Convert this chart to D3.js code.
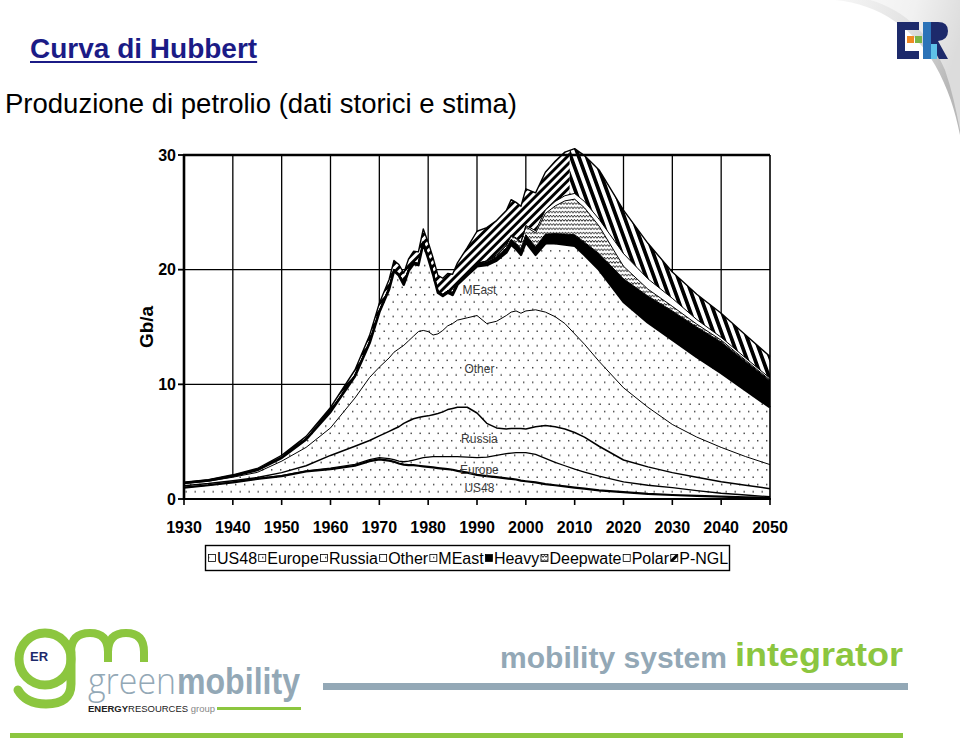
<!DOCTYPE html>
<html><head><meta charset="utf-8">
<script src="https://cdn.jsdelivr.net/npm/d3@7"></script>
<style>body{margin:0;background:#fff}svg{display:block}</style>
</head><body>
<svg id="c" width="960" height="743"></svg>
<script>
// ---------------- DATA ----------------
const years = [1930,1935,1940,1945,1950,1955,1960,1965,1968,1970,1972,1973,1974,1975,1976,1977,1978,1979,1980,1981,1982,1983,1984,1985,1986,1988,1990,1992,1994,1996,1997,1998,1999,2000,2002,2004,2006,2008,2010,2012,2015,2020,2025,2030,2035,2040,2045,2050];
const us48 =   [1.0,1.2,1.45,1.75,2.0,2.4,2.6,2.9,3.3,3.45,3.35,3.25,3.1,3.0,2.95,2.95,2.9,2.85,2.8,2.75,2.7,2.65,2.6,2.55,2.45,2.3,2.1,2.0,1.9,1.8,1.75,1.7,1.6,1.55,1.45,1.3,1.2,1.1,1.0,0.9,0.75,0.6,0.45,0.35,0.28,0.2,0.15,0.1];
const europe = [0.01,0.01,0.02,0.02,0.03,0.05,0.1,0.12,0.13,0.15,0.17,0.18,0.2,0.25,0.35,0.45,0.6,0.75,0.85,0.95,1.0,1.05,1.1,1.15,1.25,1.35,1.5,1.65,1.9,2.15,2.25,2.35,2.45,2.5,2.45,2.25,2.0,1.8,1.6,1.45,1.25,0.9,0.75,0.65,0.45,0.3,0.2,0.1];
const russia = [0.14,0.14,0.13,0.1,0.27,0.45,1.1,1.58,1.67,1.9,2.38,2.67,3.0,3.35,3.5,3.6,3.6,3.6,3.6,3.65,3.75,3.9,4.1,4.2,4.3,4.35,3.9,2.95,2.4,2.15,2.15,2.1,2.1,2.05,2.4,2.85,3.1,3.2,3.2,3.05,2.6,1.9,1.6,1.3,1.17,1.0,0.85,0.7];
const other =  [0.2,0.2,0.3,0.45,1.0,1.6,2.4,4.2,5.5,6.0,6.4,6.7,6.8,6.8,7.0,7.2,7.5,7.5,7.35,6.95,6.95,7.1,7.3,7.4,7.6,7.8,8.5,8.7,9.3,9.9,10.15,10.25,10.05,10.3,10.2,9.9,9.6,9.2,8.6,8.1,7.4,6.3,5.2,4.2,3.5,3.0,2.5,2.1];
const meast =  [0.05,0.07,0.1,0.2,0.3,0.7,1.4,1.9,3.0,4.8,6.0,7.1,6.4,5.3,6.1,6.3,5.8,7.6,6.4,5.3,3.6,3.0,2.9,2.5,3.1,3.7,4.3,5.1,5.3,5.5,5.9,5.4,5.1,6.0,4.8,6.0,6.4,6.9,7.7,7.8,8.0,7.5,7.4,7.4,7.0,6.5,5.8,5.0];
const heavy =  [0.02,0.02,0.03,0.04,0.05,0.06,0.08,0.1,0.12,0.12,0.14,0.15,0.15,0.15,0.15,0.15,0.15,0.15,0.15,0.15,0.15,0.15,0.17,0.2,0.2,0.22,0.25,0.3,0.35,0.4,0.45,0.5,0.55,0.65,0.7,0.8,0.85,0.9,0.95,1.1,1.4,2.0,2.3,2.5,2.6,2.7,2.5,2.3];
const deepwater = [0,0,0,0,0,0,0,0,0,0,0,0,0,0,0,0,0,0,0,0,0,0,0,0,0,0,0,0.05,0.1,0.2,0.3,0.4,0.5,0.7,1.2,1.8,2.4,2.9,3.1,3.0,2.4,1.1,0.6,0.4,0.25,0.15,0.1,0.08];
const polar =  [0,0,0,0,0,0,0,0,0,0,0,0,0,0,0,0,0,0,0,0,0,0,0,0,0,0,0,0.02,0.03,0.05,0.06,0.07,0.08,0.1,0.2,0.3,0.4,0.45,0.5,0.55,0.6,1.1,0.9,0.7,0.4,0.25,0.2,0.15];
const pngl =   [0.05,0.05,0.08,0.1,0.15,0.2,0.3,0.45,0.55,0.65,0.7,0.75,0.8,0.85,0.9,0.95,1.0,1.1,1.25,1.3,1.35,1.4,1.5,1.6,1.7,2.2,2.8,2.9,3.0,3.0,3.1,3.1,3.1,3.2,3.3,3.3,3.5,3.8,3.9,4.0,4.3,3.8,3.1,2.3,2.2,2.1,2.0,1.9];

const seriesKeys = ["US48","Europe","Russia","Other","MEast","Heavy","Deepwater","Polar","P-NGL"];
const seriesValues = [us48,europe,russia,other,meast,heavy,deepwater,polar,pngl];
const legendLabels = ["US48","Europe","Russia","Other","MEast","Heavy","Deepwate","Polar","P-NGL"];
const xTicks = [1930,1940,1950,1960,1970,1980,1990,2000,2010,2020,2030,2040,2050];
const yTicks = [0,10,20,30];
const yTitle = "Gb/a";
const inLabels = ["MEast","Other","Russia","Europe","US48"];
const inLabelYear = [1990.5,1990.5,1990.5,1990.5,1990.5];
const inLabelValue = [18.2,11.3,5.2,2.5,0.95];
const title = "Curva di Hubbert";
const subtitle = "Produzione di petrolio (dati storici e stima)";

// ---------------- SETUP ----------------
const svg = d3.select("#c");
const defs = svg.append("defs");
const FONT = "'Liberation Sans', Arial, sans-serif";

// patterns
const pd = defs.append("pattern").attr("id","dots").attr("patternUnits","userSpaceOnUse").attr("width",9).attr("height",14.6);
pd.append("rect").attr("width",9).attr("height",14.6).attr("fill","#fff");
pd.append("rect").attr("x",1).attr("y",2).attr("width",1.4).attr("height",1.4).attr("fill","#333");
pd.append("rect").attr("x",5.5).attr("y",9.3).attr("width",1.4).attr("height",1.4).attr("fill","#333");

const pw = defs.append("pattern").attr("id","wave").attr("patternUnits","userSpaceOnUse").attr("width",6).attr("height",4.2);
pw.append("rect").attr("width",6).attr("height",4.2).attr("fill","#fff");
pw.append("path").attr("d","M0,3 L1.5,1 L3,3 L4.5,1 L6,3").attr("fill","none").attr("stroke","#000").attr("stroke-width",0.8);

function stripes(id, period, angle){
  const p = defs.append("pattern").attr("id",id).attr("patternUnits","userSpaceOnUse").attr("width",period).attr("height",period).attr("patternTransform",`rotate(${angle})`);
  p.append("rect").attr("width",period).attr("height",period).attr("fill","#fff");
  p.append("rect").attr("width",period/2).attr("height",period).attr("fill","#000");
}
stripes("hatch",5.8,45);
stripes("hatch2",7.4,-20);

// clip regions: rising part / falling part of the P-NGL band
const x = d3.scaleLinear().domain([1930,2050]).range([184,770]);
const y = d3.scaleLinear().domain([0,30]).range([499,155]);
const peakYear = 2009;
defs.append("clipPath").attr("id","cl").append("rect").attr("x",0).attr("y",0).attr("width",x(peakYear)).attr("height",743);
defs.append("clipPath").attr("id","cr").append("rect").attr("x",x(peakYear)).attr("y",0).attr("width",960-x(peakYear)).attr("height",743);

const fills = {"US48":"url(#dots)","Europe":"url(#dots)","Russia":"url(#dots)","Other":"url(#dots)","MEast":"url(#dots)","Heavy":"#000","Deepwater":"url(#wave)","Polar":"#fff","P-NGL":"url(#hatch)"};
const lineW = {"US48":2.2,"Europe":1.3,"Russia":1.5,"Other":1,"MEast":2.6,"Heavy":1,"Deepwater":1,"Polar":1,"P-NGL":1.4};

const rows = years.map((yr,i)=>{const r={year:yr}; seriesKeys.forEach((k,j)=>r[k]=seriesValues[j][i]); return r;});
const stacked = d3.stack().keys(seriesKeys)(rows);

// grid
const g = svg.append("g");
g.selectAll("line.vg").data(xTicks.slice(1,-1)).join("line")
  .attr("x1",d=>x(d)).attr("x2",d=>x(d)).attr("y1",y(0)).attr("y2",y(30))
  .attr("stroke","#000").attr("stroke-width",1.3);
g.selectAll("line.hg").data(yTicks.slice(1,-1)).join("line")
  .attr("x1",x(1930)).attr("x2",x(2050)).attr("y1",d=>y(d)).attr("y2",d=>y(d))
  .attr("stroke","#000").attr("stroke-width",1.3);

// areas
const area = d3.area().x(d=>x(d.data.year)).y0(d=>y(d[0])).y1(d=>y(d[1]));
const line = d3.line().x(d=>x(d.data.year)).y(d=>y(d[1]));
const plain = stacked.filter(s=>s.key!=="P-NGL");
const ngl = stacked.find(s=>s.key==="P-NGL");
g.selectAll("path.ar").data(plain).join("path").attr("class","ar")
  .attr("d",area).attr("fill",d=>fills[d.key]).attr("stroke","none");
g.append("path").datum(ngl).attr("d",area).attr("fill","url(#hatch)").attr("clip-path","url(#cl)");
g.append("path").datum(ngl).attr("d",area).attr("fill","url(#hatch2)").attr("clip-path","url(#cr)");
g.selectAll("path.ln").data(stacked).join("path").attr("class","ln")
  .attr("d",line).attr("fill","none").attr("stroke","#000").attr("stroke-width",d=>lineW[d.key]).attr("stroke-linejoin","round");

// in-chart labels
g.selectAll("text.il").data(inLabels).join("text")
  .attr("x",(d,i)=>x(inLabelYear[i])).attr("y",(d,i)=>y(inLabelValue[i])+4)
  .attr("text-anchor","middle").attr("font-family",FONT).attr("font-size",12).attr("fill","#3c3c3c").text(d=>d);

// frame
g.append("line").attr("x1",x(1930)-1).attr("x2",x(2050)).attr("y1",y(30)).attr("y2",y(30)).attr("stroke","#000").attr("stroke-width",2.6);
g.append("line").attr("x1",x(2050)).attr("x2",x(2050)).attr("y1",y(30)).attr("y2",y(0)).attr("stroke","#000").attr("stroke-width",1.6);
g.append("line").attr("x1",x(1930)).attr("x2",x(1930)).attr("y1",y(30)-1).attr("y2",y(0)+1).attr("stroke","#000").attr("stroke-width",2.6);
g.append("line").attr("x1",x(1930)).attr("x2",x(2050)+1).attr("y1",y(0)).attr("y2",y(0)).attr("stroke","#000").attr("stroke-width",2.2);
// ticks
g.selectAll("line.xt").data(xTicks).join("line").attr("x1",d=>x(d)).attr("x2",d=>x(d)).attr("y1",y(0)).attr("y2",y(0)+6).attr("stroke","#000").attr("stroke-width",1.6);
g.selectAll("line.yt").data(yTicks).join("line").attr("x1",x(1930)-6).attr("x2",x(1930)).attr("y1",d=>y(d)).attr("y2",d=>y(d)).attr("stroke","#000").attr("stroke-width",1.8);
g.selectAll("text.xl").data(xTicks).join("text").attr("x",d=>x(d)).attr("y",533).attr("text-anchor","middle")
  .attr("font-family",FONT).attr("font-weight","bold").attr("font-size",16).text(d=>d);
g.selectAll("text.yl").data(yTicks).join("text").attr("x",176).attr("y",d=>y(d)+5.5).attr("text-anchor","end")
  .attr("font-family",FONT).attr("font-weight","bold").attr("font-size",16).text(d=>d);
g.append("text").attr("transform","translate(153,327) rotate(-90)").attr("text-anchor","middle")
  .attr("font-family",FONT).attr("font-weight","bold").attr("font-size",19).text(yTitle);

// legend
const lg = svg.append("g");
lg.append("rect").attr("x",205.5).attr("y",545.5).attr("width",524).attr("height",25).attr("fill","#fff").attr("stroke","#000").attr("stroke-width",1.4);
let lx = 208;
legendLabels.forEach((lab,i)=>{
  const k = seriesKeys[i];
  lg.append("rect").attr("x",lx+0.5).attr("y",554.5).attr("width",7).attr("height",7).attr("fill",fills[k]).attr("stroke","#000").attr("stroke-width",0.8);
  const t = lg.append("text").attr("x",lx+9).attr("y",564).attr("font-family",FONT).attr("font-size",16).text(lab);
  lx += 9 + t.node().getComputedTextLength() + 1.2;
});

// titles
const tt = svg.append("text").attr("x",30).attr("y",58).attr("font-family",FONT).attr("font-weight","bold").attr("font-size",28).attr("fill","#1b1b86").text(title);
const tw = tt.node().getComputedTextLength();
svg.append("rect").attr("x",30).attr("y",61).attr("width",tw).attr("height",2).attr("fill","#1b1b86");
svg.append("text").attr("x",5).attr("y",113).attr("font-family",FONT).attr("font-size",27.5).attr("fill","#000").text(subtitle);

// page curl top-right
const cg = defs.append("linearGradient").attr("id","curl").attr("x1","0").attr("y1","0").attr("x2","1").attr("y2","0.3");
cg.append("stop").attr("offset","0").attr("stop-color","#f7f7f7");
cg.append("stop").attr("offset","0.6").attr("stop-color","#e2e2e2");
cg.append("stop").attr("offset","1").attr("stop-color","#b8b8b8");
svg.append("path").attr("d","M835,0 C880,4 915,30 935,65 C948,88 955,110 960,135 L960,0 Z").attr("fill","url(#curl)");
svg.append("path").attr("d","M870,0 C905,10 930,35 945,70 C952,90 956,110 960,130 L960,0 Z").attr("fill","#fff").attr("opacity",0.5);

// ER logo
const er = svg.append("g");
er.append("rect").attr("x",897).attr("y",22).attr("width",8).attr("height",37).attr("fill","#1d2a6b");
er.append("rect").attr("x",897).attr("y",22).attr("width",22).attr("height",8).attr("fill","#1d2a6b");
er.append("rect").attr("x",897).attr("y",51).attr("width",22).attr("height",8).attr("fill","#1d2a6b");
er.append("rect").attr("x",907).attr("y",36).attr("width",7).attr("height",7).attr("fill","#f08a24");
er.append("rect").attr("x",915).attr("y",36).attr("width",7).attr("height",7).attr("fill","#7ab648");
er.append("rect").attr("x",923).attr("y",22).attr("width",8).attr("height",37).attr("fill","#2b73b8");
er.append("path").attr("d","M931,22 L938,22 Q948,22 948,31 Q948,40 938,41 L948,59 L939,59 L931,44 Z").attr("fill","#1d2a6b");
er.append("rect").attr("x",931).attr("y",44).attr("width",6).attr("height",15).attr("fill","#5fc1e8");

// bottom branding
const green = "#8cc63f", grey = "#93a8b6";
const b = svg.append("g");
b.append("circle").attr("cx",45).attr("cy",659).attr("r",26).attr("fill","none").attr("stroke",green).attr("stroke-width",9);
b.append("path").attr("d","M71,652 L71,684 Q71,704 46,704 Q26,704 18,690").attr("fill","none").attr("stroke",green).attr("stroke-width",9).attr("stroke-linecap","round");
b.append("path").attr("d","M71,662 L71,652 Q71,633 90,633 Q108,633 108,652 L108,662 M108,652 Q108,633 126,633 Q144,633 144,652 L144,662").attr("fill","none").attr("stroke",green).attr("stroke-width",8);
b.append("text").attr("x",30).attr("y",661).attr("font-family",FONT).attr("font-weight","bold").attr("font-size",13).attr("fill","#1d2a6b").text("ER");
b.append("text").attr("x",88).attr("y",694).attr("font-family","'Open Sans', sans-serif").attr("font-weight",300).attr("font-size",36).attr("fill",grey).attr("textLength",88).attr("lengthAdjust","spacingAndGlyphs").text("green");
b.append("text").attr("x",177).attr("y",694).attr("font-family",FONT).attr("font-weight","bold").attr("font-size",36).attr("fill",grey).attr("textLength",123).attr("lengthAdjust","spacingAndGlyphs").text("mobility");
const eg = b.append("text").attr("x",88).attr("y",712).attr("font-family",FONT).attr("font-size",9).attr("fill","#222").attr("textLength",127).attr("lengthAdjust","spacingAndGlyphs");
eg.append("tspan").attr("font-weight","bold").text("ENERGY");
eg.append("tspan").text("RESOURCES");
eg.append("tspan").attr("fill","#888").text(" group");
b.append("rect").attr("x",217).attr("y",707).attr("width",84).attr("height",3).attr("fill",green);
b.append("text").attr("x",500).attr("y",668).attr("font-family",FONT).attr("font-weight","bold").attr("font-size",30).attr("fill",grey).attr("textLength",227).attr("lengthAdjust","spacingAndGlyphs").text("mobility system");
b.append("text").attr("x",735).attr("y",666).attr("font-family",FONT).attr("font-weight","bold").attr("font-size",34).attr("fill",green).attr("textLength",168).attr("lengthAdjust","spacingAndGlyphs").text("integrator");
b.append("rect").attr("x",323).attr("y",683).attr("width",585).attr("height",7).attr("fill",grey);
b.append("rect").attr("x",10).attr("y",733).attr("width",893).attr("height",5).attr("fill",green);
</script>
</body></html>
